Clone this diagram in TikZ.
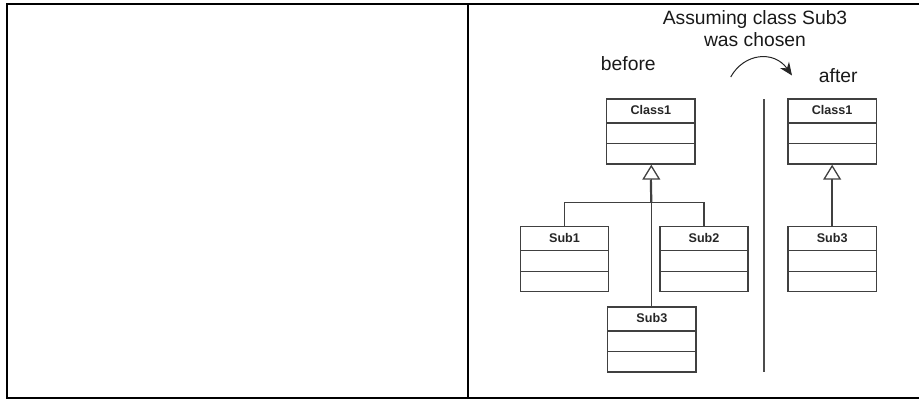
\documentclass[tikz,border=0pt]{standalone}
\usepackage{fontspec}
\setmainfont{Liberation Sans}
\usetikzlibrary{arrows.meta}
\begin{document}
\begin{tikzpicture}[x=1pt,y=-1pt,
  frameline/.style={line width=2pt,black},
  boxline/.style={line width=1.4pt,draw=black!75},
  umlbox/.style={boxline, rectangle, minimum width=88.3pt, inner xsep=0pt, inner ysep=0pt,
    text height=15.3pt, text depth=49.7pt, text=black!85,
    font=\fontsize{12.6}{14}\selectfont\bfseries,
    path picture={
      \draw[boxline] ([yshift=-24pt]path picture bounding box.north west) -- ([yshift=-24pt]path picture bounding box.north east);
      \draw[boxline] ([yshift=-44.5pt]path picture bounding box.north west) -- ([yshift=-44.5pt]path picture bounding box.north east);
    }},
  inherit/.style={boxline, -{Triangle[open,length=15pt,width=18pt,line width=1.3pt]}},
  caption/.style={font=\fontsize{19.3}{22.7}\selectfont, text=black!90, inner sep=0pt}]
\useasboundingbox (0,0) rectangle (919,399);

% outer table frame
\coordinate (tl) at (7,4);
\coordinate (tr) at (919,4);
\coordinate (bl) at (7,398.3);
\coordinate (br) at (919,398.3);
\coordinate (mt) at (468,4);
\coordinate (mb) at (468,398.3);
\draw[frameline] (tr) -- (tl) -- (bl) -- (br);
\draw[frameline] (mt) -- (mb);

% captions
\node[caption, align=center] (assume) at (755,28.6) {Assuming class Sub3\\was chosen};
\node[caption] (before) at (628.3,63.3) {before};
\node[caption] (after) at (838.3,76) {after};

% curved arrow between the two states
\coordinate (cs) at (730.7,77);
\coordinate (ce) at (792,75.5);
\draw[line width=1pt, black!85, -{Stealth[length=13pt,width=11pt]}] (cs) .. controls (744,53) and (774,50) .. (ce);

% separator
\coordinate (sept) at (764,99);
\coordinate (sepb) at (764,371.7);
\draw[line width=1.4pt, black!70] (sept) -- (sepb);

% before: hierarchy
\node[umlbox] (c1b) at (650.85,131.5) {Class1};
\node[umlbox] (s1) at (564.5,259.2) {Sub1};
\node[umlbox] (s2) at (704,259.2) {Sub2};
\node[umlbox] (s3b) at (651.85,339.5) {Sub3};

\coordinate (j) at (651.3,202.7);
\draw[boxline] (s1.north) |- (j) -| (s2.north);
\draw[boxline, line width=2.2pt] (j) -- ([yshift=-15pt]c1b.south);
\draw[inherit] (s3b.north -| j) -- (c1b.south -| j);

% after: hierarchy
\node[umlbox] (c1a) at (832.15,131.5) {Class1};
\node[umlbox] (s3a) at (832.15,259.2) {Sub3};
\draw[inherit] (s3a.north) -- (c1a.south);
\end{tikzpicture}
\end{document}
